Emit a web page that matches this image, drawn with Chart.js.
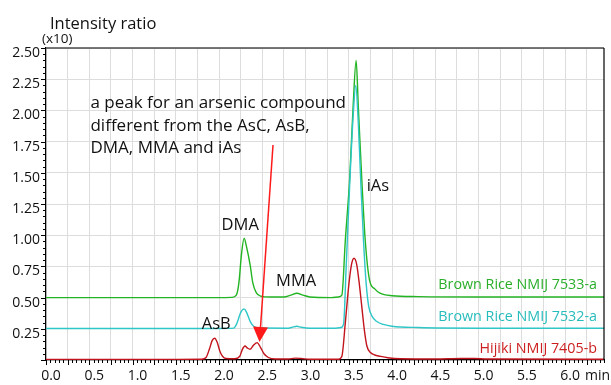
<!DOCTYPE html>
<html>
<head>
<meta charset="utf-8">
<script src="https://cdn.jsdelivr.net/npm/chart.js@4.4.1/dist/chart.umd.min.js"></script>
<style>
  body { margin: 0; background: #fff; }
  canvas { display: block; }
</style>
</head>
<body>
<canvas id="chrom" width="611" height="385"></canvas>
<script>
const FONT = '"Open Sans", "DejaVu Sans", sans-serif';

// retention time (min) / intensity ratio (x10)
const rice7533Time = [0.00, 1.00, 2.00, 2.15, 2.20, 2.23, 2.26, 2.29, 2.32, 2.36, 2.39, 2.43, 2.48, 2.60, 2.75, 2.83, 2.90, 2.97, 3.05, 3.30, 3.38, 3.42, 3.46, 3.51, 3.55, 3.585, 3.61, 3.65, 3.69, 3.74, 3.80, 3.86, 4.00, 4.30, 5.00, 6.45];
const rice7533Ratio = [0.500, 0.500, 0.500, 0.502, 0.52, 0.62, 0.85, 0.975, 0.90, 0.76, 0.62, 0.54, 0.512, 0.505, 0.505, 0.52, 0.535, 0.52, 0.505, 0.50, 0.505, 0.52, 0.96, 1.45, 2.03, 2.40, 2.03, 1.45, 0.96, 0.64, 0.57, 0.535, 0.515, 0.508, 0.505, 0.505];

const rice7532Time = [0.00, 1.00, 2.00, 2.17, 2.21, 2.25, 2.29, 2.32, 2.36, 2.40, 2.47, 2.80, 2.86, 2.90, 2.95, 3.05, 3.35, 3.41, 3.44, 3.47, 3.51, 3.55, 3.58, 3.61, 3.64, 3.67, 3.70, 3.73, 3.77, 3.82, 3.90, 4.00, 4.30, 5.00, 6.45];
const rice7532Ratio = [0.252, 0.252, 0.252, 0.255, 0.30, 0.38, 0.41, 0.38, 0.31, 0.27, 0.256, 0.255, 0.265, 0.27, 0.262, 0.255, 0.255, 0.26, 0.29, 0.75, 1.40, 1.95, 2.20, 1.90, 1.40, 0.96, 0.62, 0.43, 0.35, 0.31, 0.285, 0.27, 0.26, 0.255, 0.255];

const hijikiTime = [0.00, 1.50, 1.80, 1.85, 1.89, 1.92, 1.95, 1.98, 2.01, 2.04, 2.08, 2.18, 2.24, 2.27, 2.30, 2.33, 2.36, 2.40, 2.44, 2.48, 2.52, 2.57, 2.65, 2.80, 2.88, 2.95, 3.05, 3.38, 3.42, 3.46, 3.50, 3.53, 3.56, 3.59, 3.62, 3.65, 3.68, 3.71, 3.75, 3.80, 3.86, 3.95, 4.10, 4.50, 4.80, 4.95, 5.10, 6.45];
const hijikiRatio = [0.005, 0.005, 0.006, 0.02, 0.09, 0.155, 0.174, 0.14, 0.07, 0.03, 0.012, 0.01, 0.03, 0.085, 0.112, 0.095, 0.086, 0.12, 0.139, 0.10, 0.05, 0.02, 0.008, 0.008, 0.015, 0.012, 0.006, 0.006, 0.03, 0.30, 0.60, 0.76, 0.815, 0.77, 0.62, 0.43, 0.24, 0.11, 0.06, 0.04, 0.03, 0.018, 0.01, 0.008, 0.012, 0.012, 0.008, 0.006];

const sampleNames = ['Hijiki NMIJ 7405-b', 'Brown Rice NMIJ 7532-a', 'Brown Rice NMIJ 7533-a'];
const lineColors = ['#c2141c', '#2ec6c6', '#22b422'];
const labelColors = ['#cc1f1f', '#27bcbc', '#2aae2a'];

// peak names: [text, time, ratio] (left edge / baseline of the text)
const peakLabels = [
  ['DMA', 2.03, 1.04],
  ['MMA', 2.66, 0.593],
  ['AsB', 1.80, 0.248],
  ['iAs', 3.707, 1.357]
];
// sample names placed right-aligned beside each trace
const sampleLabelTime = 6.369;
const sampleLabelRatio = [0.0585, 0.3125, 0.567];

const noteLines = ['a peak for an arsenic compound', 'different from the AsC, AsB,', 'DMA, MMA and iAs'];
const notePos = [0.514, 2.017];
const arrowFrom = [2.624, 1.723];
const arrowTo = [2.468, 0.144];

const series = [
  [hijikiTime, hijikiRatio],
  [rice7532Time, rice7532Ratio],
  [rice7533Time, rice7533Ratio]
];

const decorations = {
  id: 'decorations',
  afterDatasetsDraw(chart) {
    const ctx = chart.ctx;
    const xs = chart.scales.x, ys = chart.scales.y;
    const area = chart.chartArea;
    ctx.save();

    // frame: grey top, black right
    ctx.lineWidth = 1.5;
    ctx.strokeStyle = '#4a4a4a';
    ctx.beginPath();
    ctx.moveTo(area.left, area.top);
    ctx.lineTo(area.right, area.top);
    ctx.stroke();
    ctx.strokeStyle = '#000';
    ctx.lineWidth = 1.2;
    ctx.beginPath();
    ctx.moveTo(area.right, area.top);
    ctx.lineTo(area.right, area.bottom);
    ctx.stroke();

    // minor ticks every 0.05
    ctx.lineWidth = 1;
    ctx.strokeStyle = '#000';
    ctx.beginPath();
    for (let i = 0; i * 0.05 <= xs.max + 1e-9; i++) {
      const px = Math.round(xs.getPixelForValue(i * 0.05)) + 0.5;
      const len = i % 5 === 0 ? 5 : 3;
      ctx.moveTo(px, area.bottom);
      ctx.lineTo(px, area.bottom + len);
    }
    for (let i = 0; i <= 50; i++) {
      const py = Math.round(ys.getPixelForValue(i * 0.05)) + 0.5;
      const len = i % 5 === 0 ? 5 : 3;
      ctx.moveTo(area.left, py);
      ctx.lineTo(area.left - len, py);
    }
    ctx.stroke();

    // axis captions
    ctx.fillStyle = '#111';
    ctx.textBaseline = 'alphabetic';
    ctx.textAlign = 'left';
    ctx.font = '16.5px ' + FONT;
    ctx.fillText('Intensity ratio', 50, 29);
    ctx.font = '13.5px ' + FONT;
    ctx.fillText('(x10)', 42, 43);
    ctx.font = '14px ' + FONT;
    ctx.fillText('min', 585, 380);

    // peak names
    ctx.font = '16.5px ' + FONT;
    peakLabels.forEach(([t, x, y]) => {
      ctx.fillText(t, xs.getPixelForValue(x), ys.getPixelForValue(y));
    });

    // note
    ctx.font = '17px ' + FONT;
    const nx = xs.getPixelForValue(notePos[0]);
    const ny = ys.getPixelForValue(notePos[1]);
    noteLines.forEach((t, i) => ctx.fillText(t, nx, ny + i * 22.3));

    // sample names
    ctx.font = '14.3px ' + FONT;
    ctx.textAlign = 'right';
    sampleNames.forEach((n, i) => {
      ctx.fillStyle = labelColors[i];
      ctx.fillText(n, xs.getPixelForValue(sampleLabelTime), ys.getPixelForValue(sampleLabelRatio[i]));
    });

    // red arrow
    const x0 = xs.getPixelForValue(arrowFrom[0]), y0 = ys.getPixelForValue(arrowFrom[1]);
    const x1 = xs.getPixelForValue(arrowTo[0]), y1 = ys.getPixelForValue(arrowTo[1]);
    const ang = Math.atan2(y1 - y0, x1 - x0);
    const head = 15, half = 7.5;
    const bx = x1 - head * Math.cos(ang), by = y1 - head * Math.sin(ang);
    ctx.strokeStyle = '#ff1a1a';
    ctx.fillStyle = '#ff1a1a';
    ctx.lineWidth = 1.5;
    ctx.beginPath();
    ctx.moveTo(x0, y0);
    ctx.lineTo(bx, by);
    ctx.stroke();
    ctx.beginPath();
    ctx.moveTo(x1, y1);
    ctx.lineTo(bx + half * Math.sin(ang), by - half * Math.cos(ang));
    ctx.lineTo(bx - half * Math.sin(ang), by + half * Math.cos(ang));
    ctx.closePath();
    ctx.fill();

    ctx.restore();
  }
};

new Chart(document.getElementById('chrom'), {
  type: 'line',
  data: {
    datasets: series.map(([t, r], i) => ({
      label: sampleNames[i],
      data: t.map((x, k) => ({ x: x, y: r[k] })),
      borderColor: lineColors[i],
      borderWidth: 1.4,
      pointRadius: 0,
      fill: false,
      cubicInterpolationMode: 'monotone'
    }))
  },
  options: {
    responsive: false,
    animation: false,
    layout: { padding: { top: 48, right: 7, left: 0, bottom: 0 } },
    plugins: {
      legend: { display: false },
      tooltip: { enabled: false }
    },
    scales: {
      x: {
        type: 'linear',
        min: 0,
        max: 6.45,
        afterFit: (s) => { s.height = 25; },
        grid: { color: '#dddddd', drawTicks: false },
        border: { color: '#000', width: 1.2 },
        ticks: {
          stepSize: 0.25,
          includeBounds: false,
          autoSkip: false,
          maxRotation: 0,
          padding: 8,
          labelOffset: 5,
          color: '#111',
          font: { family: FONT, size: 14 },
          callback: (v) => Math.abs(v / 0.5 - Math.round(v / 0.5)) < 1e-6 ? v.toFixed(1) : ''
        }
      },
      y: {
        min: 0,
        max: 2.5,
        afterFit: (s) => { s.width = 46; },
        grid: { color: '#dddddd', drawTicks: false },
        border: { color: '#000', width: 1.2 },
        ticks: {
          stepSize: 0.25,
          padding: 6,
          labelOffset: 5,
          color: '#111',
          font: { family: FONT, size: 14 },
          callback: (v) => v === 0 ? '' : v.toFixed(2)
        }
      }
    }
  },
  plugins: [decorations]
});
</script>
</body>
</html>
